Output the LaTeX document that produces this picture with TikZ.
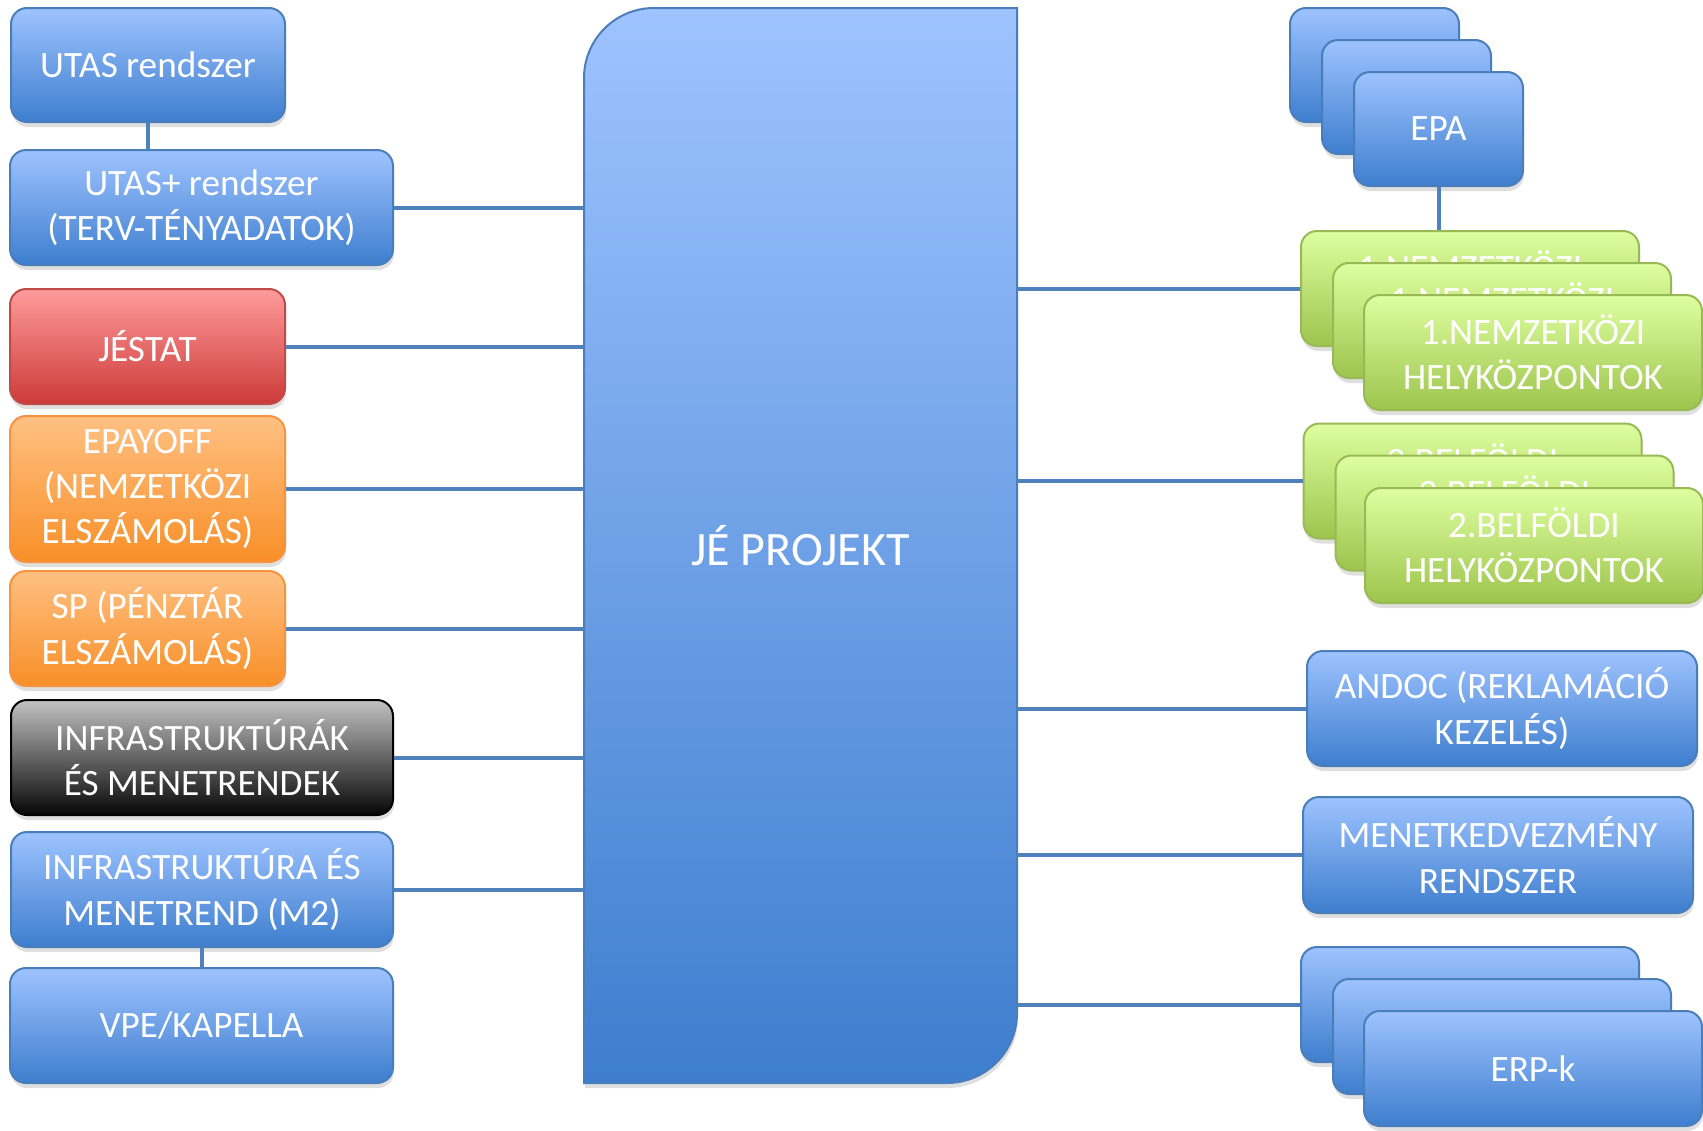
\documentclass[tikz,border=0pt]{standalone}
\usepackage{fontspec}
\setmainfont{Carlito}
\usetikzlibrary{shadows}
\definecolor{bluetop}{RGB}{158,195,255}
\definecolor{bluebot}{RGB}{62,126,206}
\definecolor{blueline}{RGB}{74,126,187}
\definecolor{connc}{RGB}{79,129,189}
\definecolor{redtop}{RGB}{255,156,156}
\definecolor{redbot}{RGB}{204,58,56}
\definecolor{redline}{RGB}{190,75,72}
\definecolor{ortop}{RGB}{255,192,130}
\definecolor{orbot}{RGB}{248,143,40}
\definecolor{orline}{RGB}{246,146,64}
\definecolor{graytop}{RGB}{194,194,194}
\definecolor{graybot}{RGB}{6,6,6}
\definecolor{grntop}{RGB}{222,255,160}
\definecolor{grnbot}{RGB}{157,196,77}
\definecolor{grnline}{RGB}{152,185,84}
\begin{document}
\begin{tikzpicture}[x=0.5pt,y=-0.5pt,
  basebox/.style={rounded corners=8pt, line width=1pt, inner sep=0pt, align=center,
    text=white, font=\fontsize{18.6pt}{22.6pt}\selectfont,
    drop shadow={opacity=0.25, shadow xshift=0.5pt, shadow yshift=-2.5pt}},
  bluefill/.style={draw=blueline, top color=bluetop, bottom color=bluebot},
  redfill/.style={draw=redline, top color=redtop, bottom color=redbot},
  orfill/.style={draw=orline, top color=ortop, bottom color=orbot},
  grayfill/.style={draw=black, top color=graytop, bottom color=graybot},
  grnfill/.style={draw=grnline, top color=grntop, bottom color=grnbot},
  conn/.style={draw=connc, line width=2pt}]
\useasboundingbox (0,0) rectangle (1703,1130);

% central project box
\path[draw=blueline, line width=1pt, top color=bluetop, bottom color=bluebot,
  drop shadow={opacity=0.25, shadow xshift=0.5pt, shadow yshift=-2.5pt}]
  (584,1083) -- (584,78) .. controls (584,39.34) and (615.34,8) .. (654,8)
  -- (1017,8) -- (1017,1013) .. controls (1017,1051.66) and (985.66,1083) .. (947,1083) -- cycle;
\node[minimum width=216.5pt, minimum height=537.5pt, inner sep=0pt, text=white,
  font=\fontsize{24pt}{28pt}\selectfont] (proj) at (800.5,545.5) {JÉ PROJEKT};

% left column
\node[basebox,bluefill,minimum width=137pt,minimum height=57pt] (utas) at (148,65) {UTAS rendszer};
\node[basebox,bluefill,minimum width=191.5pt,minimum height=57.5pt] (utasp) at (201.5,207.5) {UTAS+ rendszer\\(TERV-TÉNYADATOK)};
\node[basebox,redfill,minimum width=137.5pt,minimum height=57.5pt] (jestat) at (147.5,346.5) {JÉSTAT};
\node[basebox,orfill,minimum width=137.5pt,minimum height=73pt] (epayoff) at (147.5,489) {EPAYOFF\\(NEMZETKÖZI\\ELSZÁMOLÁS)};
\node[basebox,orfill,minimum width=137.5pt,minimum height=57.5pt] (sp) at (147.5,628.5) {SP (PÉNZTÁR\\ELSZÁMOLÁS)};
\node[basebox,grayfill,minimum width=191pt,minimum height=57.5pt] (infrak) at (202,757.5) {INFRASTRUKTÚRÁK\\ÉS MENETRENDEK};
\node[basebox,bluefill,minimum width=191pt,minimum height=57.5pt] (infra) at (202,889.5) {INFRASTRUKTÚRA ÉS\\MENETREND (M2)};
\node[basebox,bluefill,minimum width=191.5pt,minimum height=57.5pt] (vpe) at (201.5,1025.5) {VPE/KAPELLA};

% right column
\node[basebox,bluefill,minimum width=84.5pt,minimum height=57pt] (epa3) at (1374.5,65) {};
\node[basebox,bluefill,minimum width=84.5pt,minimum height=57pt] (epa2) at (1406.5,97) {};
\node[basebox,bluefill,minimum width=84.5pt,minimum height=57pt] (epa) at (1438.5,129) {EPA};

\node[basebox,grnfill,minimum width=169pt,minimum height=57.5pt] (nk3) at (1470,288.5) {1.NEMZETKÖZI\\HELYKÖZPONTOK};
\node[basebox,grnfill,minimum width=169pt,minimum height=57.5pt] (nk2) at (1502,320.5) {1.NEMZETKÖZI\\HELYKÖZPONTOK};
\node[basebox,grnfill,minimum width=169pt,minimum height=57.5pt] (nk) at (1533,352.5) {1.NEMZETKÖZI\\HELYKÖZPONTOK};

\node[basebox,grnfill,minimum width=169pt,minimum height=57.5pt] (bf3) at (1472.5,481) {2.BELFÖLDI\\HELYKÖZPONTOK};
\node[basebox,grnfill,minimum width=169pt,minimum height=57.5pt] (bf2) at (1504.5,513) {2.BELFÖLDI\\HELYKÖZPONTOK};
\node[basebox,grnfill,minimum width=169pt,minimum height=57.5pt] (bf) at (1534,545.5) {2.BELFÖLDI\\HELYKÖZPONTOK};

\node[basebox,bluefill,minimum width=195pt,minimum height=57.5pt] (andoc) at (1502,708.5) {ANDOC (REKLAMÁCIÓ\\KEZELÉS)};
\node[basebox,bluefill,minimum width=195pt,minimum height=58pt] (menet) at (1498,855) {MENETKEDVEZMÉNY\\RENDSZER};

\node[basebox,bluefill,minimum width=169pt,minimum height=57.5pt] (erp3) at (1470,1004.5) {};
\node[basebox,bluefill,minimum width=169pt,minimum height=57.5pt] (erp2) at (1502,1036.5) {};
\node[basebox,bluefill,minimum width=169pt,minimum height=57.5pt] (erp) at (1533,1068.5) {ERP-k};

% connectors
\draw[conn] (utas.south) -- (utas.south |- utasp.north);
\draw[conn] (utasp.east) -- (utasp.east -| proj.west);
\draw[conn] (jestat.east) -- (jestat.east -| proj.west);
\draw[conn] (epayoff.east) -- (epayoff.east -| proj.west);
\draw[conn] (sp.east) -- (sp.east -| proj.west);
\draw[conn] (infrak.east) -- (infrak.east -| proj.west);
\draw[conn] (infra.east) -- (infra.east -| proj.west);
\draw[conn] (infra.south) -- (infra.south |- vpe.north);

\draw[conn] (epa.south) -- (epa.south |- nk3.north);
\draw[conn] (nk3.west -| proj.east) -- (nk3.west);
\draw[conn] (bf3.west -| proj.east) -- (bf3.west);
\draw[conn] (andoc.west -| proj.east) -- (andoc.west);
\draw[conn] (menet.west -| proj.east) -- (menet.west);
\draw[conn] (erp3.west -| proj.east) -- (erp3.west);
\end{tikzpicture}
\end{document}
